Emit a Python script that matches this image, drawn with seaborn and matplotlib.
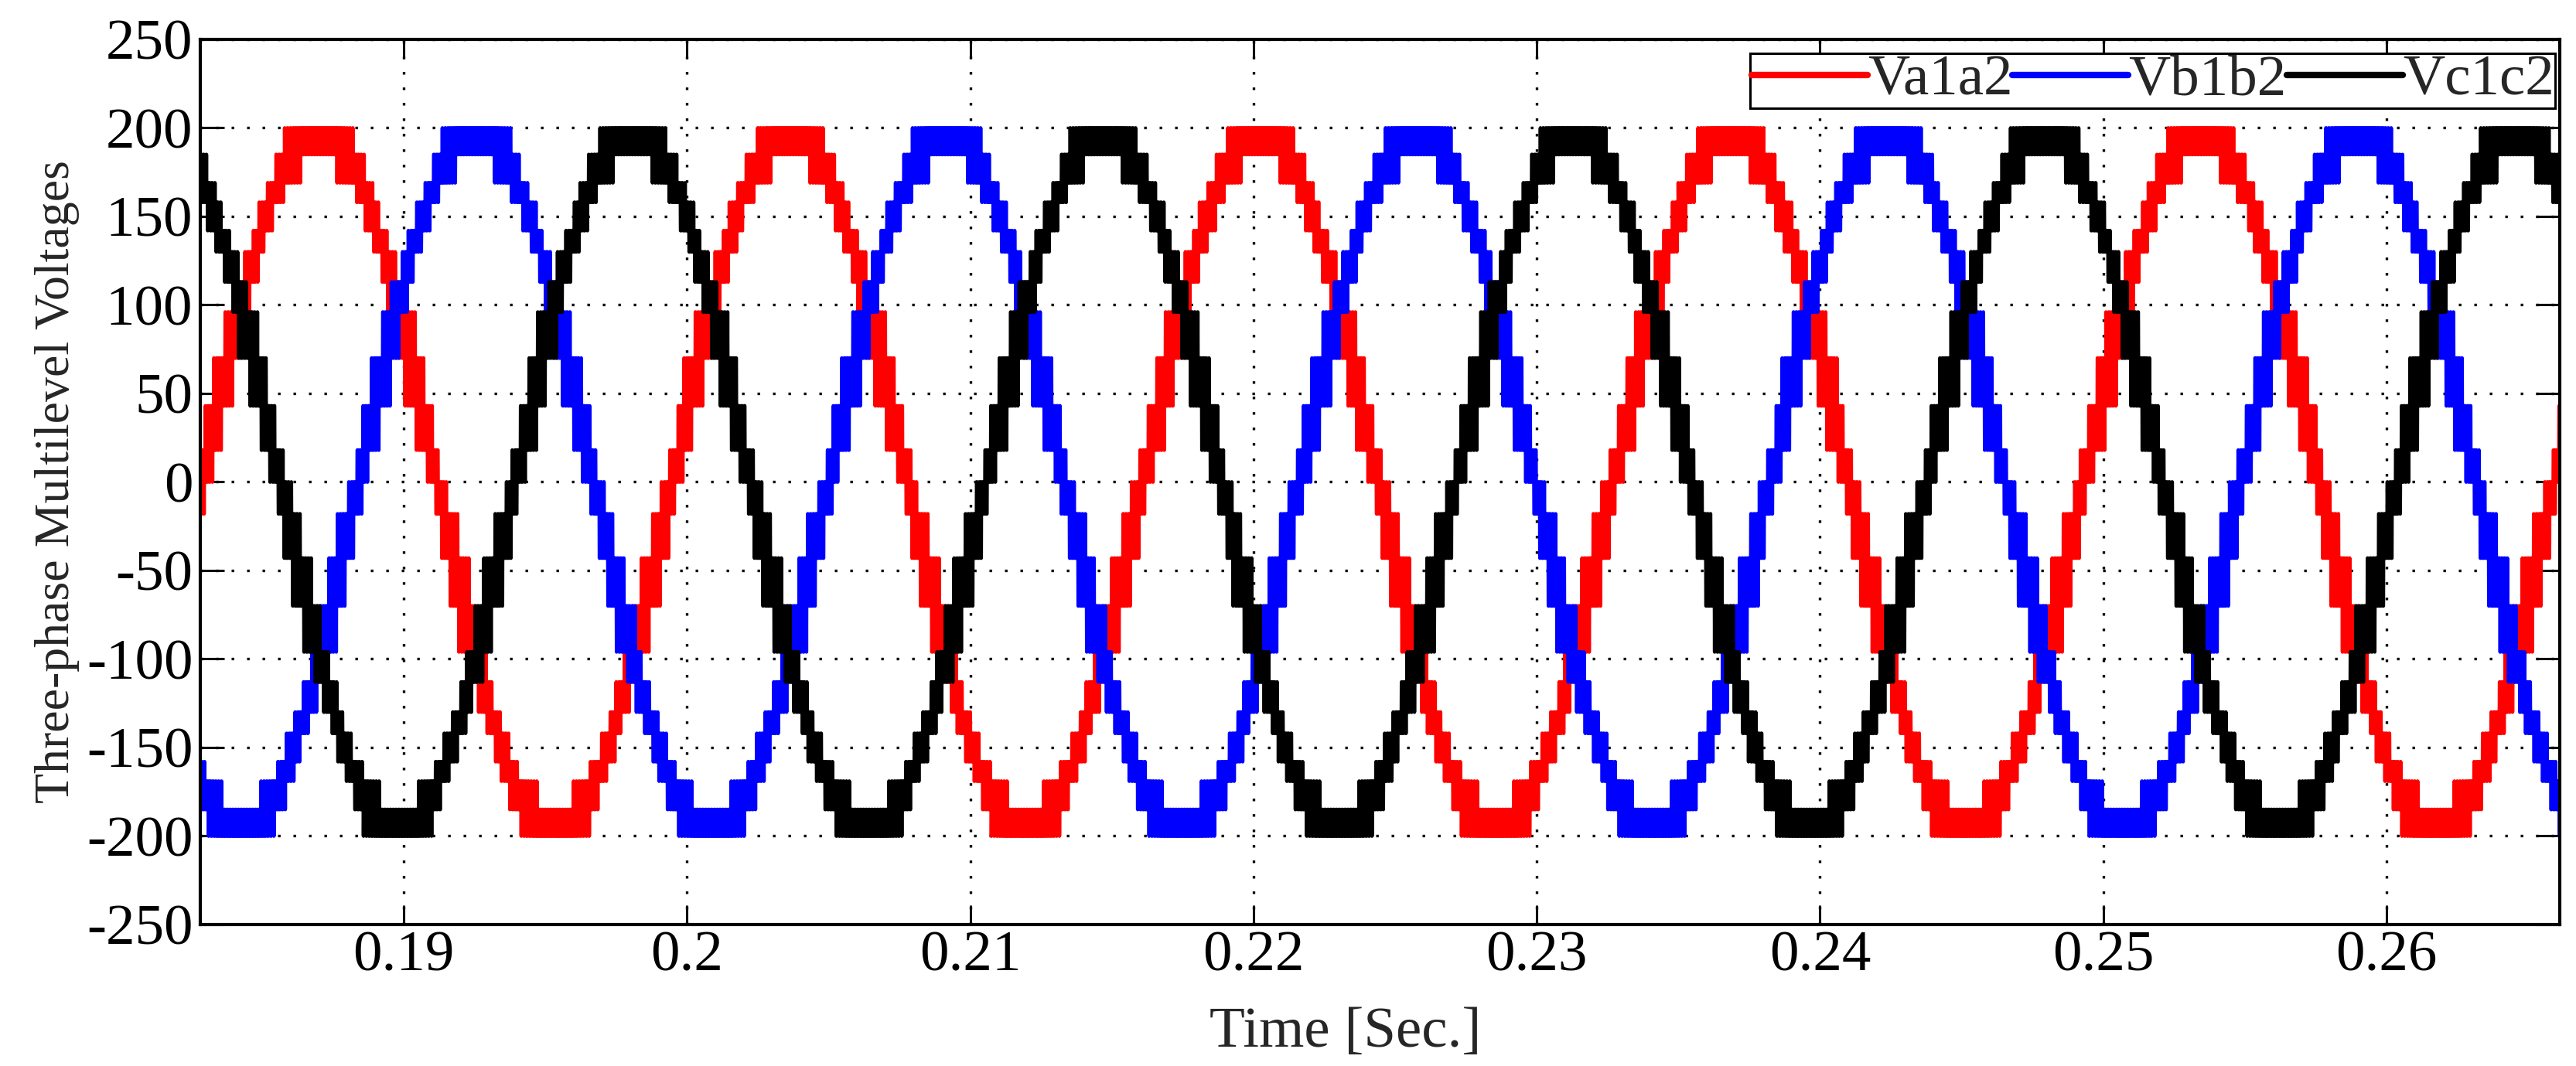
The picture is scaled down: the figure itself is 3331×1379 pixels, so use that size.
import numpy as np
import pandas as pd
import seaborn as sns
import matplotlib
matplotlib.use('Agg')
import matplotlib.pyplot as plt

# values
PHASES = ['Va1a2', 'Vb1b2', 'Vc1c2']
PHASE_SHIFT_DEG = [0, -120, 120]
COLORS = ['#ff0000', '#0000ff', '#000000']
LEVELS_POS = [0, 18, 43, 70, 96, 113, 130, 142, 158, 169, 185, 200]
REF_PEAK_V = 198
FREQ_HZ = 60.2
T_ZERO = 0.18287        # first rising zero crossing of Va1a2
CARRIER_HZ = 10000
DITHER = [-0.5, 1.5]    # chatter spread, in level steps
T_START = 0.18282
T_END = 0.26612
SAMPLE_HZ = 400000

XTICKS = [0.19, 0.2, 0.21, 0.22, 0.23, 0.24, 0.25, 0.26]
XTICK_LABELS = ['0.19', '0.2', '0.21', '0.22', '0.23', '0.24', '0.25', '0.26']
YTICKS = [-250, -200, -150, -100, -50, 0, 50, 100, 150, 200, 250]


def build_frame():
    levels = np.array([-v for v in LEVELS_POS[:0:-1]] + LEVELS_POS, dtype=float)
    index = np.arange(len(levels))
    t = np.arange(T_START - 0.0002, T_END + 0.0002, 1.0 / SAMPLE_HZ)
    frames = []
    for k, (name, shift) in enumerate(zip(PHASES, PHASE_SHIFT_DEG)):
        theta = 2 * np.pi * FREQ_HZ * (t - T_ZERO) + np.deg2rad(shift)
        ref = REF_PEAK_V * np.sin(theta)
        pos = np.interp(ref, levels, index)
        tri = 2 * np.abs((t * CARRIER_HZ + k / 3.0) % 1 - 0.5)
        carrier = DITHER[0] + (DITHER[1] - DITHER[0]) * tri
        step = np.clip(np.floor(pos + carrier), 0, len(levels) - 1).astype(int)
        frames.append(pd.DataFrame({'t': t, 'v': levels[step], 'phase': name}))
    return pd.concat(frames, ignore_index=True)


def plot_voltages():
    sns.set_style('ticks')
    plt.rcParams['font.family'] = ['Liberation Serif', 'DejaVu Serif']
    plt.rcParams['axes.unicode_minus'] = False
    plt.rcParams['lines.scale_dashes'] = True

    df = build_frame()
    fig = plt.figure(figsize=(33.31, 13.79), dpi=100)
    ax = fig.add_axes([0.07776, 0.13271, 0.91594, 0.83031])

    sns.lineplot(data=df, x='t', y='v', hue='phase', hue_order=PHASES,
                 palette=COLORS, estimator=None, sort=False, linewidth=3.4,
                 ax=ax)

    ax.set_xlim(T_START, T_END)
    ax.set_ylim(-250, 250)
    ax.set_xticks(XTICKS, XTICK_LABELS)
    ax.set_yticks(YTICKS, [str(v) for v in YTICKS])
    ax.grid(True, color='black', linestyle=(0, (1, 5)), linewidth=2.4)
    ax.set_axisbelow(True)

    ax.tick_params(direction='in', top=True, right=True, width=2.2,
                   labelsize=54, colors='black')
    ax.tick_params(axis='x', length=18, pad=6)
    ax.tick_params(axis='y', length=22, pad=7)
    for s in ax.spines.values():
        s.set_linewidth(3)
        s.set_color('black')

    ax.set_xlabel('Time [Sec.]', fontsize=54)
    ax.xaxis.set_label_coords(0.4854, -0.0926)
    ax.set_ylabel('Three-phase Multilevel Voltages', fontsize=46)
    ax.yaxis.set_label_coords(-0.051, 0.5)

    handles, labels = ax.get_legend_handles_labels()
    leg = ax.legend(handles, labels, loc='upper right', bbox_to_anchor=(0.998, 0.9843),
                    borderaxespad=0, ncol=3, fontsize=54, frameon=True,
                    fancybox=False, edgecolor='black', framealpha=1,
                    handlelength=2.0, handletextpad=0.0, columnspacing=0.0,
                    borderpad=0.02)
    leg.get_frame().set_linewidth(2.2)
    for h in leg.get_lines():
        h.set_linewidth(6)

    fig.savefig('out.png', dpi=100, facecolor='white')


plot_voltages()
